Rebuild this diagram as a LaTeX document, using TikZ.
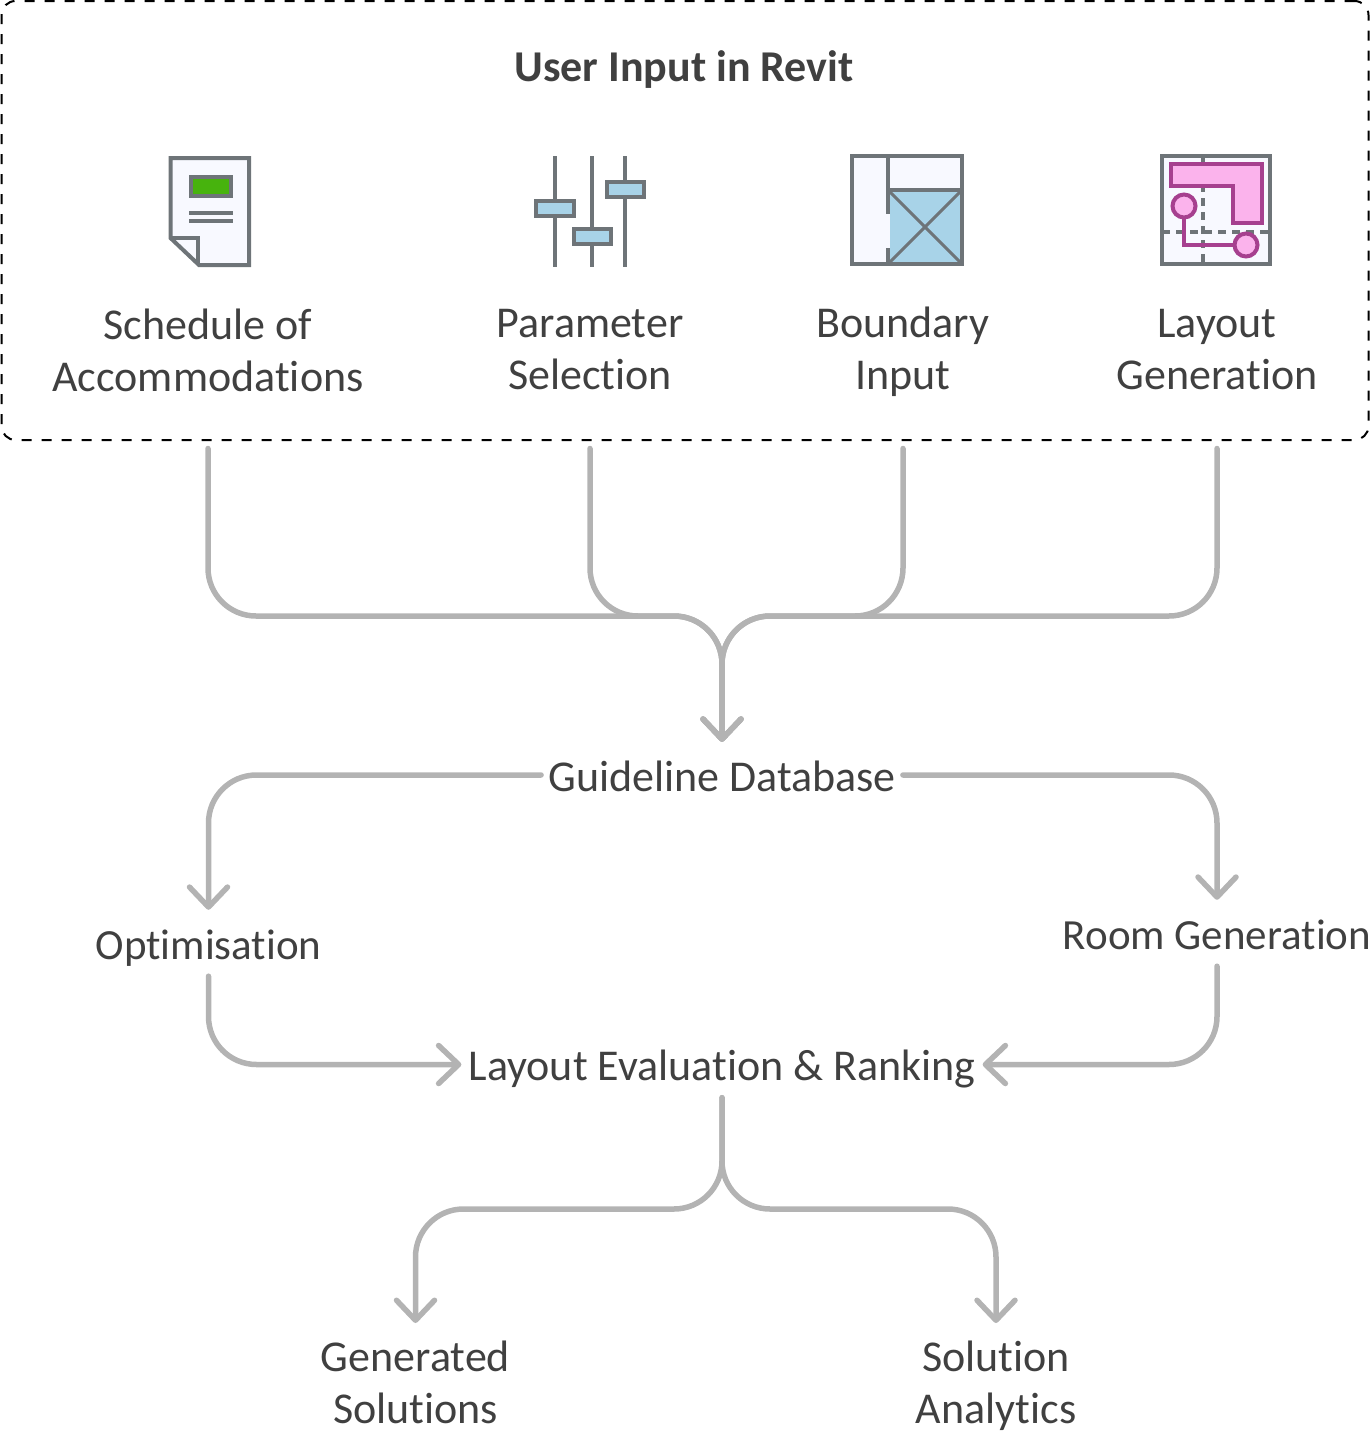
\documentclass[tikz,border=0pt]{standalone}
\usepackage{xcolor}
\usepackage{fontspec}
\setmainfont[Ligatures=NoCommon]{Carlito}
\usetikzlibrary{arrows.meta,calc}
\definecolor{flowgray}{RGB}{179,179,179}
\definecolor{textgray}{RGB}{64,64,64}
\definecolor{icongray}{RGB}{110,116,120}
\definecolor{iconpaper}{RGB}{248,249,255}
\definecolor{iconblue}{RGB}{168,211,232}
\definecolor{icongreen}{RGB}{71,179,13}
\definecolor{iconpink}{RGB}{251,179,236}
\definecolor{iconpurple}{RGB}{166,64,143}
\tikzset{
    flow/.style={draw=flowgray, line width=5.5pt, line cap=round, rounded corners=48pt},
    flowarrow/.style={flow, -{Straight Barb[round, length=20pt, width=38pt]}},
    onelabel/.style={anchor=base, text=textgray, font=\fontsize{44}{52}\selectfont, text height=41pt, text depth=9pt, inner xsep=7pt, inner ysep=8pt},
    twolabel/.style={anchor=north, text=textgray, font=\fontsize{44}{52}\selectfont, align=center, inner sep=0pt},
    iconline/.style={draw=icongray, line width=4pt},
    purpleline/.style={draw=iconpurple, line width=4pt}
}
\begin{document}
\begin{tikzpicture}[x=1pt, y=-1pt]
    \useasboundingbox (0,0) rectangle (1372,1432);

    % input group
    \node[draw=black, dash pattern=on 10pt off 10pt, line width=2pt, rounded corners=14pt, minimum width=1367pt, minimum height=439pt, inner sep=0pt, outer sep=8.5pt] (inputs) at (685,220.5) {};
    \node[text=textgray, font=\fontsize{44}{50}\selectfont\bfseries] (title) at (684,70) {User Input in Revit};

    \node[twolabel] (schedule) at (208,309) {Schedule of\\Accommodations};
    \node[twolabel] (parameter) at (590,309) {Parameter\\Selection};
    \node[twolabel] (boundary) at (903,307) {Boundary\\Input};
    \node[twolabel] (layoutgen) at (1217,309) {Layout\\Generation};

    % document icon
    \fill[iconpaper] (171,158) -- (249,158) -- (249,265) -- (199,265) -- (171,238) -- cycle;
    \draw[iconline, line join=miter] (170.5,158) -- (249,158) -- (249,265) -- (199,265) -- (170.5,238) -- cycle;
    \draw[iconline] (170.5,238) -- (198,238) -- (198,265);
    \draw[iconline, fill=icongreen] (191,177) rectangle (231,196);
    \draw[iconline] (189,212.5) -- (233,212.5);
    \draw[iconline] (189,221) -- (233,221);

    % slider icon
    \draw[iconline] (555,156) -- (555,267);
    \draw[iconline] (592,156) -- (592,267);
    \draw[iconline] (625,156) -- (625,267);
    \draw[iconline, fill=iconblue] (536,201) rectangle (574,216);
    \draw[iconline, fill=iconblue] (574,229) rectangle (611,244);
    \draw[iconline, fill=iconblue] (607,182) rectangle (644,197);

    % boundary icon
    \fill[iconpaper] (852,156) rectangle (962,264);
    \fill[iconblue] (890,190) rectangle (962,264);
    \draw[iconline] (852,156) rectangle (962,264);
    \draw[iconline] (888,156) -- (888,214);
    \draw[iconline] (888,248) -- (888,264);
    \draw[iconline] (888,190) -- (962,190);
    \draw[iconline, line width=3pt] (888,190) -- (962,264);
    \draw[iconline, line width=3pt] (888,264) -- (962,190);

    % layout icon
    \draw[iconline, fill=iconpaper] (1162,156) rectangle (1270,264);
    \draw[iconline, line width=3.5pt, dash pattern=on 8pt off 6pt] (1203,156) -- (1203,264);
    \draw[iconline, line width=3.5pt, dash pattern=on 8pt off 6pt] (1162,232) -- (1270,232);
    \draw[purpleline, fill=iconpink] (1171,164) -- (1262,164) -- (1262,223) -- (1233,223) -- (1233,186) -- (1171,186) -- cycle;
    \draw[purpleline] (1184,217) -- (1184,245) -- (1235,245);
    \draw[purpleline, fill=iconpink] (1184,206) circle (11.5pt);
    \draw[purpleline, fill=iconpink] (1246,245) circle (11.5pt);

    % flow labels
    \node[onelabel] (guide) at (722,791) {Guideline Database};
    \node[onelabel, font=\fontsize{43}{52}\selectfont] (optim) at (208.5,959) {Optimisation};
    \node[onelabel, font=\fontsize{43}{52}\selectfont] (room) at (1217,949) {Room Generation};
    \node[onelabel] (evaluate) at (722,1080.5) {Layout Evaluation \& Ranking};
    \node[twolabel] (solutions) at (415.5,1341) {Generated\\Solutions};
    \node[twolabel] (analytics) at (996,1341) {Solution\\Analytics};

    \coordinate (merge) at (722,616);
    \coordinate (split) at (722,1209);
    \coordinate (solutionstip) at (415.5,1323);
    \coordinate (analyticstip) at (996,1323);

    % connectors
    \draw[flowarrow] (inputs.south -| schedule) |- (merge) -- (guide.north);
    \draw[flowarrow] (inputs.south -| parameter) |- (merge) -- (guide.north);
    \draw[flowarrow] (inputs.south -| boundary) |- (merge) -- (guide.north);
    \draw[flowarrow] (inputs.south -| layoutgen) |- (merge) -- (guide.north);
    \draw[flowarrow] (guide.west) -| (optim.north);
    \draw[flowarrow] (guide.east) -| (room.north);
    \draw[flowarrow] (optim.south) |- (evaluate.west);
    \draw[flowarrow] (room.south) |- (evaluate.east);
    \draw[flowarrow] (evaluate.south) -- (split) -| (solutionstip);
    \draw[flowarrow] (evaluate.south) -- (split) -| (analyticstip);
\end{tikzpicture}
\end{document}
